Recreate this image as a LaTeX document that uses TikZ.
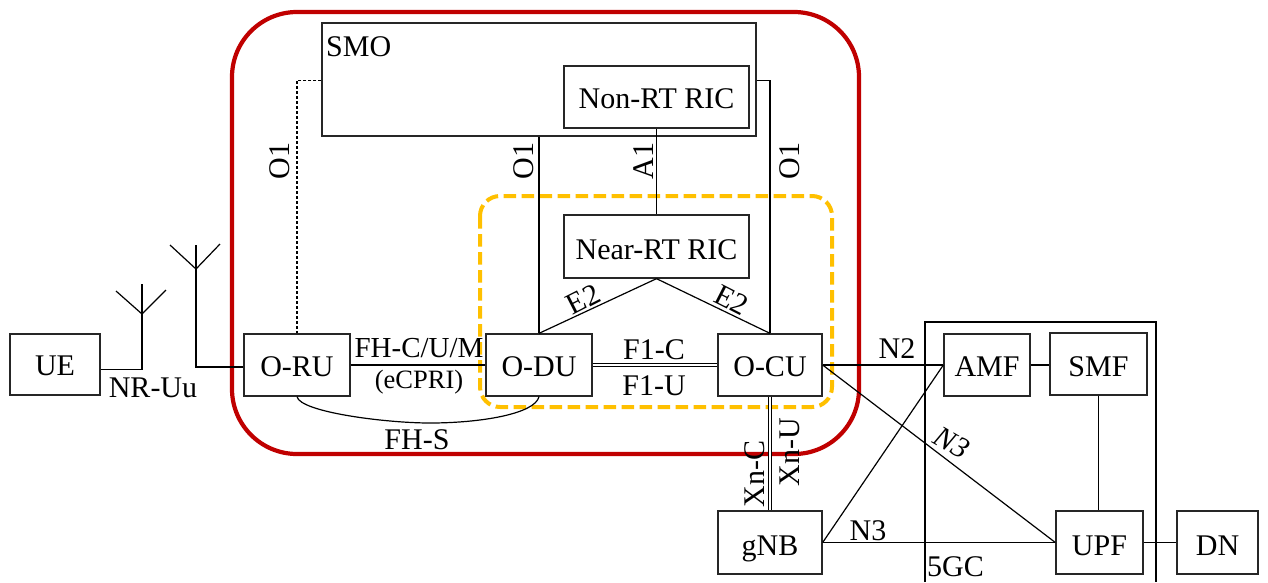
\documentclass[tikz,border=0pt]{standalone}
\usepackage{fontspec}
\setmainfont{Liberation Serif}
\newcommand{\bx}[7][]{\node[nodebox,minimum width=#5pt-#3pt,minimum height=#6pt-#4pt,#1] (#2) at ({(#3+#5)/2},{(#4+#6)/2}) {#7};}
\begin{document}
\begin{tikzpicture}[x=1pt,y=-1pt,
  every node/.style={font=\fontsize{30}{32}\selectfont,text=black,inner sep=0pt},
  nodebox/.style={draw=black!85,line width=1.3pt,anchor=center,text height=22pt,text depth=0pt,align=center},
  low/.style={text height=25pt},
  conn/.style={draw=black,line width=1.2pt},
  dbl/.style={draw=black,line width=1.2pt,double=white,double distance=1.8pt},
  lab/.style={anchor=center},
  smalllab/.style={anchor=center,font=\fontsize{26.5}{28}\selectfont}]
\useasboundingbox (0,0) rectangle (1268,582);
\fill[white] (0,0) rectangle (1268,582);
% regions
\draw[color={rgb,255:red,192;green,0;blue,0},line width=4.2pt,rounded corners=65pt] (232,12) rectangle (859,454);
\draw[color={rgb,255:red,255;green,192;blue,0},line width=4pt,dash pattern=on 12.5pt off 5.5pt,rounded corners=20pt] (480,196) rectangle (832,407);
% boxes
\bx{ue}{10}{334}{100}{395}{UE}
\bx{oru}{244}{334}{350}{396}{O-RU}
\bx{odu}{486}{334}{592}{396}{O-DU}
\bx{ocu}{718}{334}{822}{396}{O-CU}
\bx{smo}{322}{23}{756}{136}{}
\bx{nonrt}{564}{66}{749}{128}{Non-RT RIC}
\bx[low]{nearrt}{564}{215}{749}{278}{Near-RT RIC}
\bx[low]{gnb}{718}{511}{822}{574}{gNB}
\bx{amf}{944}{334}{1030}{396}{AMF}
\bx[low]{smf}{1050}{333}{1147}{395}{SMF}
\bx[low]{upf}{1056}{511}{1143}{574}{UPF}
\bx[low]{dn}{1177}{511}{1258}{574}{DN}
\node[lab,anchor=west] (smolab) at (326,47) {SMO};
% 5GC frame
\coordinate (gca) at (925,582);
\coordinate (gcb) at (925,322);
\coordinate (gcc) at (1156,322);
\coordinate (gcd) at (1156,582);
\draw[conn] (gca) -- (gcb) -- (gcc) -- (gcd);
\node[lab,anchor=west] (gclab) at (927,567) {5GC};
% antennas
\coordinate (a1v) at (142,314);
\coordinate (a1t) at (142,284);
\coordinate (a1l) at (116,291);
\coordinate (a1r) at (166,290);
\coordinate (a2v) at (196,269);
\coordinate (a2t) at (196,245);
\coordinate (a2l) at (170,245);
\coordinate (a2r) at (220,244);
\draw[conn] ([yshift=-5pt]ue.east) -| (a1v) -- (a1t);
\draw[conn] (a1l) -- (a1v) -- (a1r);
\draw[conn] ([yshift=-2pt]oru.west) -| (a2v) -- (a2t);
\draw[conn] (a2l) -- (a2v) -- (a2r);
% connectors
\draw[conn] (oru.east) -- (odu.west);
\draw[dbl] (odu.east) -- (ocu.west);
\draw[dbl] (ocu.south) -- (ocu.south |- gnb.north);
\draw[conn,line width=1.1pt,dash pattern=on 3pt off 2pt] ([yshift=-1pt]smo.west) -| (oru.north);
\draw[conn] (odu.north) -- (odu.north |- smo.south);
\draw[conn] ([yshift=-1pt]smo.east) -| (ocu.north);
\draw[conn] (nonrt.south) -- (nearrt.north);
\draw[conn] (nearrt.south) -- (odu.north);
\draw[conn] (nearrt.south) -- (ocu.north);
\draw[conn] (oru.south) .. controls (300,412) and (385,423) .. (430,423) .. controls (480,423) and (535,414) .. (odu.south);
\draw[conn] (ocu.east) -- (amf.west);
\draw[conn] (ocu.east) -- (upf.west);
\draw[conn] (gnb.east) -- (amf.west);
\draw[conn] (gnb.east) -- (upf.west);
\draw[conn] (amf.east) -- (amf.east -| smf.west);
\draw[conn] (smf.south) -- (smf.south |- upf.north);
\draw[conn] (upf.east) -- (dn.west);
% labels
\node[lab] (l1) at (153,388) {NR-Uu};
\node[lab,font=\fontsize{29}{31}\selectfont] (l2) at (419,348) {FH-C/U/M};
\node[smalllab] (l3) at (419,382) {(eCPRI)};
\node[lab] (l4) at (417,440) {FH-S};
\node[lab] (l5) at (654,350) {F1-C};
\node[lab] (l6) at (654,386) {F1-U};
\node[lab] (l7) at (897,349) {N2};
\node[lab] (l8) at (868,531) {N3};
\node[lab,rotate=-30,font=\fontsize{30}{32}\selectfont\itshape] (l9) at (952,443) {N3};
\node[lab,rotate=90] (l10) at (280,161) {O1};
\node[lab,rotate=90] (l11) at (524,161) {O1};
\node[lab,rotate=90] (l12) at (644,161) {A1};
\node[lab,rotate=90] (l13) at (790,161) {O1};
\node[lab,rotate=27] (l14) at (583,299) {E2};
\node[lab,rotate=-27] (l15) at (732,300) {E2};
\node[lab,rotate=90] (l16) at (755,474) {Xn-C};
\node[lab,rotate=90] (l17) at (790,452) {Xn-U};
\end{tikzpicture}
\end{document}
